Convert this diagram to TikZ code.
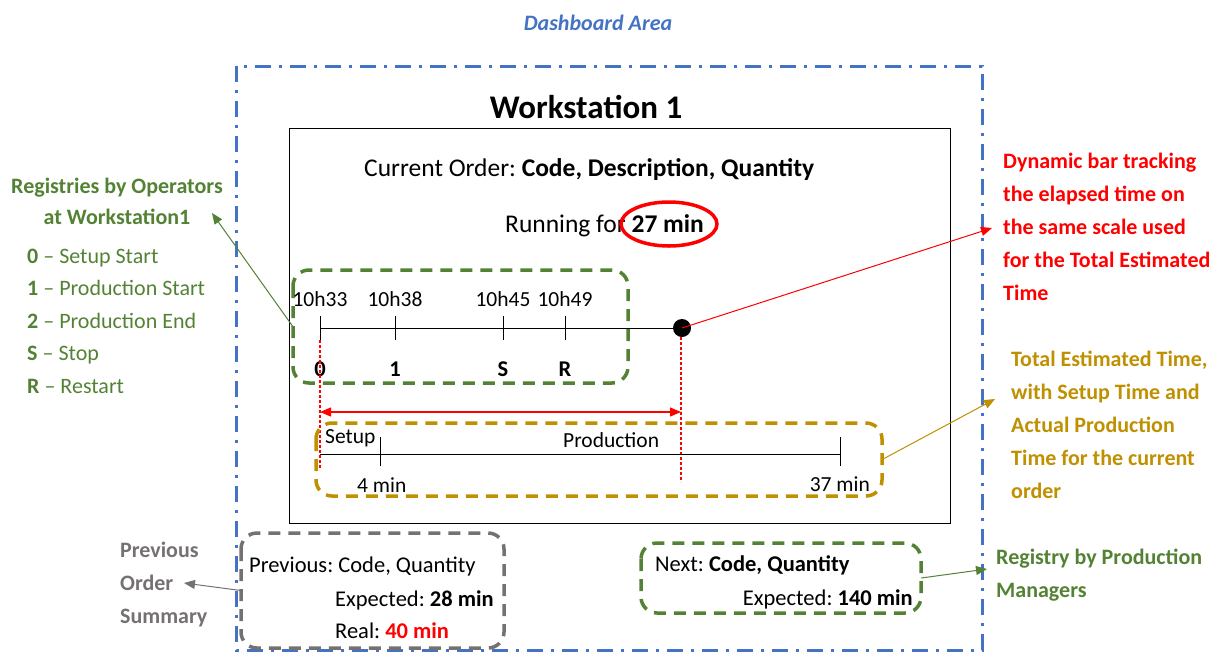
\documentclass[tikz,border=0pt]{standalone}
\usepackage{fontspec}
\setmainfont{Carlito}
\usetikzlibrary{arrows.meta,shapes.geometric}
\definecolor{dgreen}{HTML}{548235}
\definecolor{dgold}{HTML}{BF9000}
\definecolor{dblue}{HTML}{4472C4}
\definecolor{dgray}{HTML}{767171}
\definecolor{dred}{HTML}{FF0000}
\tikzset{
  txt/.style={inner sep=0pt, anchor=base west, font=\frenchspacing\fontsize{22.5}{26}\selectfont},
  big/.style={inner sep=0pt, anchor=base west, font=\frenchspacing\fontsize{25.5}{30}\selectfont},
  small/.style={inner sep=0pt, anchor=base west, font=\frenchspacing\fontsize{21.5}{25}\selectfont},
  side/.style={inner sep=0pt, anchor=base west, align=left, font=\frenchspacing\bfseries\fontsize{22}{33}\selectfont},
  dbox/.style={line width=3.5pt, dash pattern=on 12pt off 8pt, rounded corners=16pt},
  callout/.style={line width=1pt, -{Triangle[length=11pt,width=9pt]}},
  tick/.style={line width=1pt},
  guide/.style={dred, line width=1.1pt, dash pattern=on 3pt off 2pt},
}
\begin{document}
\begin{tikzpicture}[x=1pt,y=-1pt]
\useasboundingbox (0,0) rectangle (1218,654);
% title
\node[inner sep=0pt, anchor=base, text=dblue, font=\bfseries\itshape\fontsize{22}{26}\selectfont] (title) at (598,30) {Dashboard Area};
\draw[dblue, line width=3pt, dash pattern=on 16pt off 8pt on 3pt off 8pt] (236,66) rectangle (982,650);
\node[inner sep=0pt, anchor=base, font=\bfseries\fontsize{33}{38}\selectfont] (ws) at (586,118) {Workstation 1};
\draw[line width=1pt] (289,128) rectangle (950,523);
\node[big] (cur) at (364,176) {Current Order: \textbf{Code, Description, Quantity}};
\node[big] (run) at (505,232) {Running for \textbf{27 min}};
\node[draw=dred, line width=3.5pt, ellipse, minimum width=96pt, minimum height=44pt, inner sep=0pt] (ell) at (669,224) {};
% registries timeline
\draw[dgreen, dbox] (293,270) rectangle (628,383);
\node[inner sep=0pt, minimum width=335pt, minimum height=113pt] (gbox) at (460.5,326.5) {};
\draw[line width=1pt] (320,328) -- (682,328);
\fill (682,328) circle (9pt);
\coordinate (dot) at (682,328);
\foreach \x/\t/\l in {320/10h33/0, 395/10h38/1, 503/10h45/S, 565/10h49/R}{
  \draw[tick] (\x,316) -- (\x,340);
  \node[inner sep=0pt, anchor=base, font=\fontsize{21.5}{25}\selectfont] at (\x,306) {\t};
  \node[inner sep=0pt, anchor=base, font=\bfseries\fontsize{22.5}{26}\selectfont] at (\x,376) {\l};
}
% red dashed guides and arrow
\draw[guide] (320,340) -- (320,470);
\draw[guide] (681,337) -- (681,482);
\draw[dred, line width=1.2pt, {Triangle[length=11pt,width=9pt]}-{Triangle[length=11pt,width=9pt]}] (320,412) -- (681,412);
% estimated time bar
\draw[dgold, dbox] (316,423) rectangle (882,496);
\node[inner sep=0pt, minimum width=566pt, minimum height=73pt] (obox) at (599,459.5) {};
\draw[line width=1pt] (320,454) -- (840,454);
\draw[tick] (380,437) -- (380,466);
\draw[tick] (840,437) -- (840,466);
\node[small] at (325,443) {Setup};
\node[small] at (563,447) {Production};
\node[small] at (357,492) {4 min};
\node[small, anchor=base east] at (870,491) {37 min};
% previous box
\draw[dgray, dbox] (241,533) rectangle (504,648);
\node[inner sep=0pt, minimum width=263pt, minimum height=115pt] (pbox) at (372.5,590.5) {};
\node[txt] at (249,572) {Previous: Code, Quantity};
\node[txt] at (335,606) {Expected: \textbf{28 min}};
\node[txt] at (335,638) {Real: \textbf{\color{dred}40 min}};
% next box
\draw[dgreen, dbox] (641,543) rectangle (921,613);
\node[inner sep=0pt, minimum width=280pt, minimum height=70pt] (nbox) at (781,578) {};
\node[txt] at (655,571) {Next: \textbf{Code, Quantity}};
\node[txt, anchor=base east] at (913,605) {Expected: \textbf{140 min}};
% side texts (base anchor = baseline of last line)
\node[inner sep=0pt, anchor=base, align=center, text=dgreen, font=\bfseries\fontsize{22}{31}\selectfont] (reg) at (117,224) {Registries by Operators\\at Workstation1};
\node[side, text=dgreen, font=\frenchspacing\fontsize{22}{32.5}\selectfont] (list) at (27,393) {\textbf{0} -- Setup Start\\\textbf{1} -- Production Start\\\textbf{2} -- Production End\\\textbf{S} -- Stop\\\textbf{R} -- Restart};
\node[side, text=dred] (dyn) at (1003,300) {Dynamic bar tracking\\the elapsed time on\\the same scale used\\for the Total Estimated\\Time};
\node[side, text=dgold] (tot) at (1011,498) {Total Estimated Time,\\with Setup Time and\\Actual Production\\Time for the current\\order};
\node[side, text=dgreen] (mgr) at (996,597) {Registry by Production\\Managers};
\node[side, text=dgray] (prev) at (120,623) {Previous\\Order\\Summary};
% callouts
\coordinate (regend) at (212,213);
\coordinate (dynend) at (992,228);
\coordinate (totend) at (995,399);
\coordinate (mgrend) at (987,569);
\coordinate (prevend) at (184,583);
\draw[callout, dgreen] (gbox.west) -- (regend);
\draw[callout, dred] (dot) -- (dynend);
\draw[callout, dgold] (obox.east) -- (totend);
\draw[callout, dgreen] (nbox.east) -- (mgrend);
\draw[callout, dgray] (pbox.west) -- (prevend);
\end{tikzpicture}
\end{document}
